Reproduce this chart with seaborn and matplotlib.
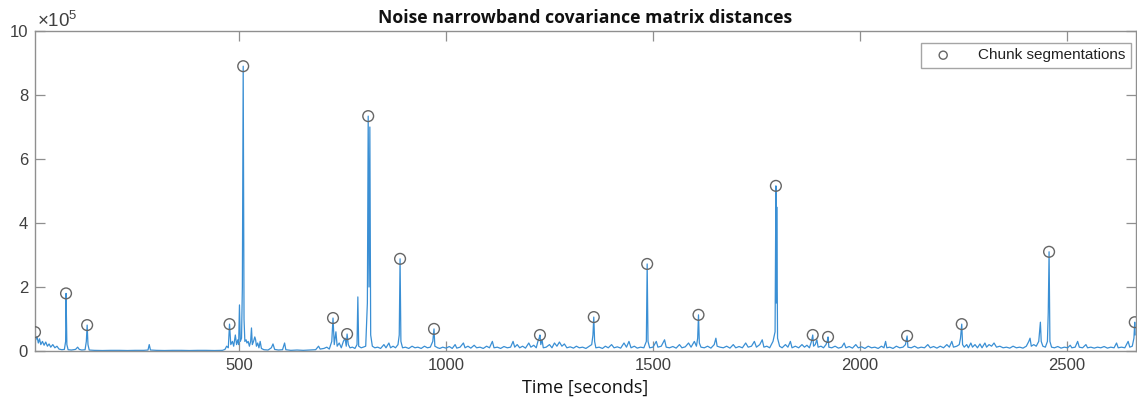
import matplotlib
matplotlib.use("Agg")
import matplotlib.pyplot as plt
import seaborn as sns
import pandas as pd

# ---- data (values in units of 1e5) ----
time_s = [
    7, 9, 12, 15, 18, 21, 25, 29, 33, 37, 41, 45, 50, 55, 60, 65, 72, 78, 81, 82, 84, 87, 95, 105, 110, 114, 120, 128, 131, 133, 135, 138,
    150, 170, 190, 210, 230, 250, 270, 280, 283, 286, 300, 320, 340, 360, 380, 400, 420, 440, 460, 466, 470, 474, 477, 480, 484, 487,
    491, 494, 497, 499, 501, 503, 506, 508, 510, 512, 514, 517, 519, 522, 525, 528, 530, 532, 535, 538, 540, 542, 545, 548, 551, 554,
    560, 570, 578, 582, 586, 595, 605, 610, 613, 625, 640, 655, 670, 685, 692, 696, 705, 712, 718, 724, 727, 730, 734, 737, 742, 747,
    752, 756, 759, 761, 764, 768, 774, 780, 785, 787, 789, 795, 800, 806, 810, 812, 814, 816, 818, 822, 828, 835, 842, 850, 855, 862,
    866, 872, 878, 884, 887, 889, 891, 895, 902, 910, 918, 925, 932, 940, 948, 955, 962, 968, 971, 973, 980, 985, 992, 1000, 1008,
    1015, 1022, 1026, 1034, 1042, 1046, 1053, 1060, 1068, 1074, 1082, 1090, 1098, 1105, 1112, 1116, 1124, 1132, 1140, 1148, 1156,
    1162, 1166, 1172, 1178, 1185, 1192, 1200, 1205, 1212, 1218, 1222, 1225, 1227, 1229, 1232, 1235, 1242, 1250, 1256, 1262, 1268,
    1274, 1280, 1286, 1292, 1300, 1308, 1315, 1322, 1330, 1338, 1345, 1352, 1355, 1357, 1359, 1362, 1370, 1378, 1385, 1392, 1400,
    1406, 1414, 1422, 1430, 1436, 1442, 1447, 1455, 1462, 1470, 1478, 1484, 1486, 1488, 1492, 1500, 1508, 1512, 1520, 1528, 1532,
    1540, 1548, 1556, 1564, 1570, 1578, 1586, 1592, 1600, 1605, 1608, 1610, 1612, 1616, 1624, 1632, 1640, 1648, 1652, 1655, 1662,
    1670, 1678, 1686, 1694, 1700, 1708, 1716, 1724, 1730, 1738, 1745, 1750, 1758, 1764, 1768, 1775, 1782, 1790, 1795, 1797, 1798,
    1799, 1801, 1806, 1812, 1820, 1826, 1832, 1836, 1844, 1852, 1860, 1866, 1872, 1878, 1883, 1886, 1888, 1892, 1896, 1899, 1906,
    1912, 1918, 1921, 1923, 1925, 1932, 1940, 1948, 1956, 1962, 1966, 1974, 1982, 1990, 1996, 2004, 2012, 2020, 2028, 2036, 2044,
    2052, 2058, 2062, 2065, 2072, 2080, 2088, 2096, 2104, 2110, 2114, 2116, 2124, 2132, 2140, 2148, 2156, 2164, 2170, 2178, 2186,
    2194, 2202, 2210, 2216, 2222, 2226, 2234, 2240, 2243, 2246, 2248, 2252, 2258, 2262, 2268, 2272, 2278, 2284, 2290, 2295, 2302,
    2306, 2312, 2318, 2324, 2330, 2338, 2346, 2354, 2362, 2370, 2378, 2386, 2394, 2402, 2408, 2411, 2414, 2420, 2426, 2432, 2436,
    2438, 2442, 2448, 2453, 2455, 2457, 2459, 2463, 2470, 2478, 2486, 2494, 2502, 2508, 2512, 2520, 2526, 2530, 2538, 2546, 2550,
    2558, 2566, 2574, 2582, 2590, 2598, 2606, 2614, 2620, 2624, 2632, 2640, 2648, 2652, 2658, 2662, 2664, 2665,
]
distance = [
    0.59, 0.35, 0.45, 0.25, 0.38, 0.2, 0.3, 0.18, 0.28, 0.15, 0.22, 0.12, 0.2, 0.1, 0.15, 0.06, 0.04, 0.05, 0.3, 1.8, 0.2, 0.04, 0.03, 0.05, 0.12, 0.05, 0.03, 0.04, 0.3, 0.81, 0.2, 0.03,
    0.02, 0.015, 0.02, 0.02, 0.015, 0.02, 0.02, 0.03, 0.2, 0.03, 0.02, 0.015, 0.02, 0.02, 0.015, 0.02, 0.02, 0.015, 0.02, 0.05, 0.15, 0.1, 0.84, 0.2, 0.3, 0.15,
    0.5, 0.2, 0.35, 0.2, 1.44, 0.3, 0.4, 2.0, 8.9, 1.0, 0.3, 0.35, 0.25, 0.3, 0.15, 0.3, 0.72, 0.2, 0.3, 0.44, 0.35, 0.15, 0.25, 0.1, 0.3, 0.08,
    0.04, 0.03, 0.1, 0.22, 0.05, 0.03, 0.04, 0.25, 0.04, 0.02, 0.03, 0.02, 0.03, 0.04, 0.15, 0.06, 0.08, 0.12, 0.06, 0.3, 1.03, 0.2, 0.6, 0.15, 0.25, 0.1,
    0.3, 0.4, 0.15, 0.53, 0.2, 0.1, 0.12, 0.08, 0.2, 1.69, 0.15, 0.1, 0.12, 0.15, 1.5, 7.34, 2.0, 7.0, 0.5, 0.15, 0.1, 0.12, 0.08, 0.2, 0.1, 0.25,
    0.1, 0.15, 0.1, 0.2, 0.5, 2.88, 0.3, 0.1, 0.12, 0.08, 0.15, 0.1, 0.12, 0.08, 0.15, 0.1, 0.12, 0.3, 0.69, 0.15, 0.1, 0.08, 0.12, 0.09, 0.14,
    0.08, 0.2, 0.09, 0.12, 0.25, 0.1, 0.15, 0.09, 0.18, 0.1, 0.12, 0.08, 0.15, 0.1, 0.3, 0.1, 0.12, 0.08, 0.14, 0.1, 0.12,
    0.3, 0.12, 0.2, 0.1, 0.15, 0.09, 0.25, 0.12, 0.18, 0.1, 0.3, 0.4, 0.5, 0.2, 0.35, 0.1, 0.12, 0.2, 0.1, 0.25, 0.15,
    0.28, 0.15, 0.22, 0.1, 0.13, 0.09, 0.15, 0.1, 0.12, 0.08, 0.14, 0.2, 0.5, 1.06, 0.3, 0.1, 0.12, 0.08, 0.15, 0.1, 0.2,
    0.1, 0.13, 0.09, 0.25, 0.12, 0.3, 0.1, 0.15, 0.09, 0.12, 0.1, 0.3, 2.72, 0.3, 0.1, 0.12, 0.3, 0.12, 0.15, 0.35, 0.12,
    0.1, 0.14, 0.09, 0.2, 0.1, 0.13, 0.25, 0.12, 0.3, 0.15, 0.4, 1.13, 0.25, 0.12, 0.1, 0.15, 0.09, 0.2, 0.4, 0.15, 0.12,
    0.1, 0.15, 0.09, 0.2, 0.1, 0.14, 0.1, 0.25, 0.12, 0.15, 0.3, 0.12, 0.2, 0.35, 0.12, 0.15, 0.1, 0.3, 0.6, 5.16, 1.5,
    4.5, 0.4, 0.15, 0.1, 0.2, 0.12, 0.3, 0.1, 0.15, 0.1, 0.2, 0.12, 0.18, 0.1, 0.3, 0.5, 0.15, 0.2, 0.35, 0.12, 0.15,
    0.1, 0.2, 0.3, 0.44, 0.12, 0.1, 0.15, 0.09, 0.12, 0.25, 0.1, 0.14, 0.09, 0.2, 0.1, 0.13, 0.08, 0.15, 0.1, 0.12, 0.08,
    0.15, 0.1, 0.3, 0.1, 0.12, 0.08, 0.15, 0.1, 0.12, 0.2, 0.47, 0.12, 0.1, 0.15, 0.09, 0.12, 0.1, 0.2, 0.1, 0.14, 0.09,
    0.15, 0.1, 0.2, 0.12, 0.3, 0.12, 0.15, 0.2, 0.4, 0.84, 0.2, 0.12, 0.2, 0.1, 0.25, 0.12, 0.2, 0.1, 0.22, 0.1, 0.25,
    0.12, 0.2, 0.15, 0.25, 0.12, 0.15, 0.1, 0.12, 0.09, 0.15, 0.1, 0.12, 0.09, 0.15, 0.3, 0.4, 0.15, 0.2, 0.15, 0.3, 0.9,
    0.3, 0.15, 0.12, 0.3, 1.2, 3.1, 0.3, 0.12, 0.1, 0.14, 0.09, 0.12, 0.1, 0.18, 0.1, 0.12, 0.3, 0.12, 0.1, 0.2, 0.1,
    0.12, 0.09, 0.12, 0.1, 0.14, 0.09, 0.12, 0.1, 0.25, 0.1, 0.12, 0.1, 0.3, 0.12, 0.15, 0.4, 0.9, 0.5,
]

# chunk segmentation points
seg_time = [7, 82, 133, 477, 510, 727, 761, 812, 889, 971, 1227, 1357, 1486, 1610,
            1797, 1886, 1923, 2114, 2246, 2457, 2664]
seg_value = [0.59, 1.8, 0.81, 0.84, 8.9, 1.03, 0.53, 7.34, 2.88, 0.69, 0.5, 1.06, 2.72, 1.13,
             5.16, 0.5, 0.44, 0.47, 0.84, 3.1, 0.9]

x_ticks = [500, 1000, 1500, 2000, 2500]
y_ticks = [0, 2, 4, 6, 8, 10]

signal = pd.DataFrame({"t": time_s, "d": distance})
segs = pd.DataFrame({"t": seg_time, "d": seg_value})

sns.set_style("white")
plt.rcParams["font.family"] = ["Liberation Sans", "DejaVu Sans"]
plt.rcParams["mathtext.fontset"] = "custom"
plt.rcParams["mathtext.rm"] = "Liberation Sans"

fig = plt.figure(figsize=(11.37, 4.05), dpi=100)
ax = fig.add_axes([35 / 1137, 54 / 405, 1101 / 1137, 320 / 405])

sns.lineplot(data=signal, x="t", y="d", ax=ax, color="#3a8fd4", linewidth=0.9,
             sort=False, estimator=None, legend=False)
sns.scatterplot(data=segs, x="t", y="d", ax=ax, marker="o", s=60,
                facecolor="none", edgecolor="#666666", linewidth=1.0,
                label="Chunk segmentations", zorder=5)

ax.set_xlim(7, 2667)
ax.set_ylim(0, 10)
ax.set_xticks(x_ticks)
ax.set_yticks(y_ticks)
ax.set_xticklabels([str(v) for v in x_ticks])
ax.set_yticklabels([str(v) for v in y_ticks])

spine_col = "#8f8f8f"
for sp in ax.spines.values():
    sp.set_visible(True)
    sp.set_color(spine_col)
    sp.set_linewidth(1.0)
ax.tick_params(direction="in", length=7.5, width=0.9, color=spine_col,
               labelsize=12, labelcolor="#404040",
               top=True, right=True, bottom=True, left=True, pad=5)

ax.set_xlabel("Time [seconds]", fontsize=13, family=["Open Sans", "DejaVu Sans"],
              color="#111111", labelpad=4)
ax.set_ylabel("")
ax.set_title("Noise narrowband covariance matrix distances", fontsize=12.7,
             fontweight="bold", family=["Open Sans", "DejaVu Sans"], color="#111111", pad=6)

ax.text(0.002, 1.0, r"$\times\mathregular{10^5}$", transform=ax.transAxes,
        ha="left", va="bottom", fontsize=13.5, color="#404040")

leg = ax.legend(loc="upper right", bbox_to_anchor=(0.9955, 0.963), frameon=True,
                fancybox=False, edgecolor="#8f8f8f", fontsize=11,
                borderpad=0.35, handletextpad=1.2, borderaxespad=0.0,
                markerscale=0.75, handlelength=2.2)
leg.get_frame().set_linewidth(1.0)
for txt in leg.get_texts():
    txt.set_color("#222222")

fig.savefig("out.png", dpi=100)
